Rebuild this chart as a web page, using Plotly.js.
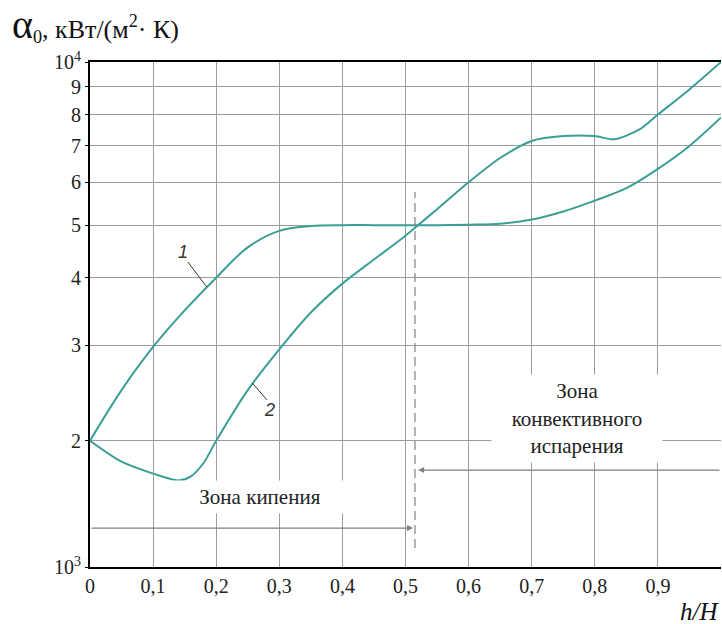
<!DOCTYPE html>
<html><head><meta charset="utf-8">
<script src="https://cdn.plot.ly/plotly-3.0.1.min.js"></script>
<style>html,body{margin:0;padding:0;background:#fff}#chart{width:722px;height:624px}</style>
</head><body><div id="chart"></div>
<script>
// Curve 1
const h1 = [0, 0.05, 0.1, 0.15, 0.2, 0.25, 0.3, 0.35, 0.4, 0.45, 0.5, 0.55, 0.6, 0.65, 0.7, 0.75, 0.8, 0.85, 0.9, 0.95, 1.0];
const alpha1 = [2000, 2480, 2980, 3480, 4000, 4550, 4880, 4980, 5000, 5000, 5000, 5000, 5010, 5030, 5120, 5300, 5550, 5850, 6350, 7000, 7900];
// Curve 2
const h2 = [0, 0.05, 0.1, 0.14, 0.16, 0.18, 0.2, 0.25, 0.3, 0.35, 0.4, 0.45, 0.5, 0.52, 0.55, 0.6, 0.65, 0.7, 0.75, 0.8, 0.83, 0.87, 0.9, 0.95, 1.0];
const alpha2 = [2000, 1830, 1740, 1690, 1720, 1820, 2000, 2480, 2950, 3450, 3900, 4320, 4780, 5000, 5350, 6000, 6650, 7150, 7300, 7300, 7200, 7500, 8000, 8900, 10000];

const xTickVals = [0, 0.1, 0.2, 0.3, 0.4, 0.5, 0.6, 0.7, 0.8, 0.9, 1];
const xTickText = ['0', '0,1', '0,2', '0,3', '0,4', '0,5', '0,6', '0,7', '0,8', '0,9', '1'];
const yTickVals = [1170, 2000, 3000, 4000, 5000, 6000, 7000, 8000, 9000, 10000];
const yTickText = ['10<sup>3</sup>', '2', '3', '4', '5', '6', '7', '8', '9', '10<sup>4</sup>'];

const teal = '#3a9f94';
const serif = "'Liberation Serif', 'Times New Roman', serif";
const grey = '#808080';

const traces = [
  {x: h1, y: alpha1, mode: 'lines', line: {color: teal, width: 2, shape: 'spline', smoothing: 1}, hoverinfo: 'skip'},
  {x: h2, y: alpha2, mode: 'lines', line: {color: teal, width: 2, shape: 'spline', smoothing: 0.8}, hoverinfo: 'skip'}
];

const L = Math.log10;
const layout = {
  width: 722, height: 624,
  margin: {l: 90, r: 1, t: 62, b: 57},
  paper_bgcolor: '#fff', plot_bgcolor: '#fff',
  showlegend: false,
  font: {family: serif, size: 20, color: '#222'},
  xaxis: {
    range: [0, 1], tickvals: xTickVals, ticktext: xTickText,
    showgrid: true, gridcolor: '#9c9c9c', gridwidth: 1,
    showline: true, linecolor: '#000', linewidth: 2, mirror: true,
    ticks: '', zeroline: false, tickfont: {family: serif, size: 20, color: '#222'}
  },
  yaxis: {
    type: 'log', range: [L(1170), 4], tickvals: yTickVals, ticktext: yTickText,
    showgrid: true, gridcolor: '#9c9c9c', gridwidth: 1,
    showline: true, linecolor: '#000', linewidth: 2, mirror: false,
    ticks: 'outside', ticklen: 3, tickcolor: '#000', zeroline: false,
    tickfont: {family: serif, size: 20, color: '#222'}
  },
  shapes: [
    {type: 'line', xref: 'x', yref: 'y', x0: 0.515, x1: 0.515, y0: 1269, y1: 5754,
     line: {color: grey, width: 1.2, dash: '9px,5px'}},
    {type: 'line', xref: 'x', yref: 'y', x0: 0.155, x1: 0.185, y0: 4276, y1: 3846,
     line: {color: '#333', width: 1}},
    {type: 'line', xref: 'x', yref: 'y', x0: 0.257, x1: 0.2805, y0: 2558, y1: 2379,
     line: {color: '#333', width: 1}}
  ],
  annotations: [
    {xref: 'paper', yref: 'paper', x: -0.127, y: 1.026, xanchor: 'left', yanchor: 'bottom', showarrow: false,
     text: '<span style="font-size:40px">α</span><sub>0</sub>, кВт/(м<sup>2</sup>· К)', font: {family: serif, size: 26, color: '#111'}},
    {xref: 'paper', yref: 'paper', x: 1.0, y: -0.088, xanchor: 'right', yanchor: 'middle', showarrow: false,
     text: '<i>h/H</i>', font: {family: serif, size: 25, color: '#111'}},
    {xref: 'x', yref: 'y', x: 0.147, y: 3.649, showarrow: false, text: '<i>1</i>', font: {family: 'Liberation Sans', size: 18, color: '#333'}},
    {xref: 'x', yref: 'y', x: 0.285, y: 3.358, showarrow: false, text: '<i>2</i>', font: {family: 'Liberation Sans', size: 18, color: '#333'}},
    // Зона кипения arrow
    {xref: 'x', yref: 'y', x: 0.512, y: 3.14, axref: 'x', ayref: 'y', ax: 0, ay: 3.14, showarrow: true,
     arrowhead: 2, arrowsize: 1, arrowwidth: 1.2, arrowcolor: grey, text: ''},
    {xref: 'x', yref: 'y', x: 0.27, y: 3.197, showarrow: false, text: 'Зона кипения',
     bgcolor: '#fff', width: 172, height: 30, font: {family: serif, size: 21, color: '#222'}},
    // Зона конвективного испарения arrow
    {xref: 'x', yref: 'y', x: 0.52, y: 3.247, axref: 'x', ayref: 'y', ax: 1, ay: 3.247, showarrow: true,
     arrowhead: 2, arrowsize: 1, arrowwidth: 1.2, arrowcolor: grey, text: ''},
    {xref: 'x', yref: 'y', x: 0.772, y: 3.343, showarrow: false, text: 'Зона<br>конвективного<br>испарения',
     bgcolor: '#fff', width: 168, height: 85, font: {family: serif, size: 21, color: '#222'}}
  ]
};

Plotly.newPlot('chart', traces, layout, {displayModeBar: false, staticPlot: true});
</script>
</body></html>
